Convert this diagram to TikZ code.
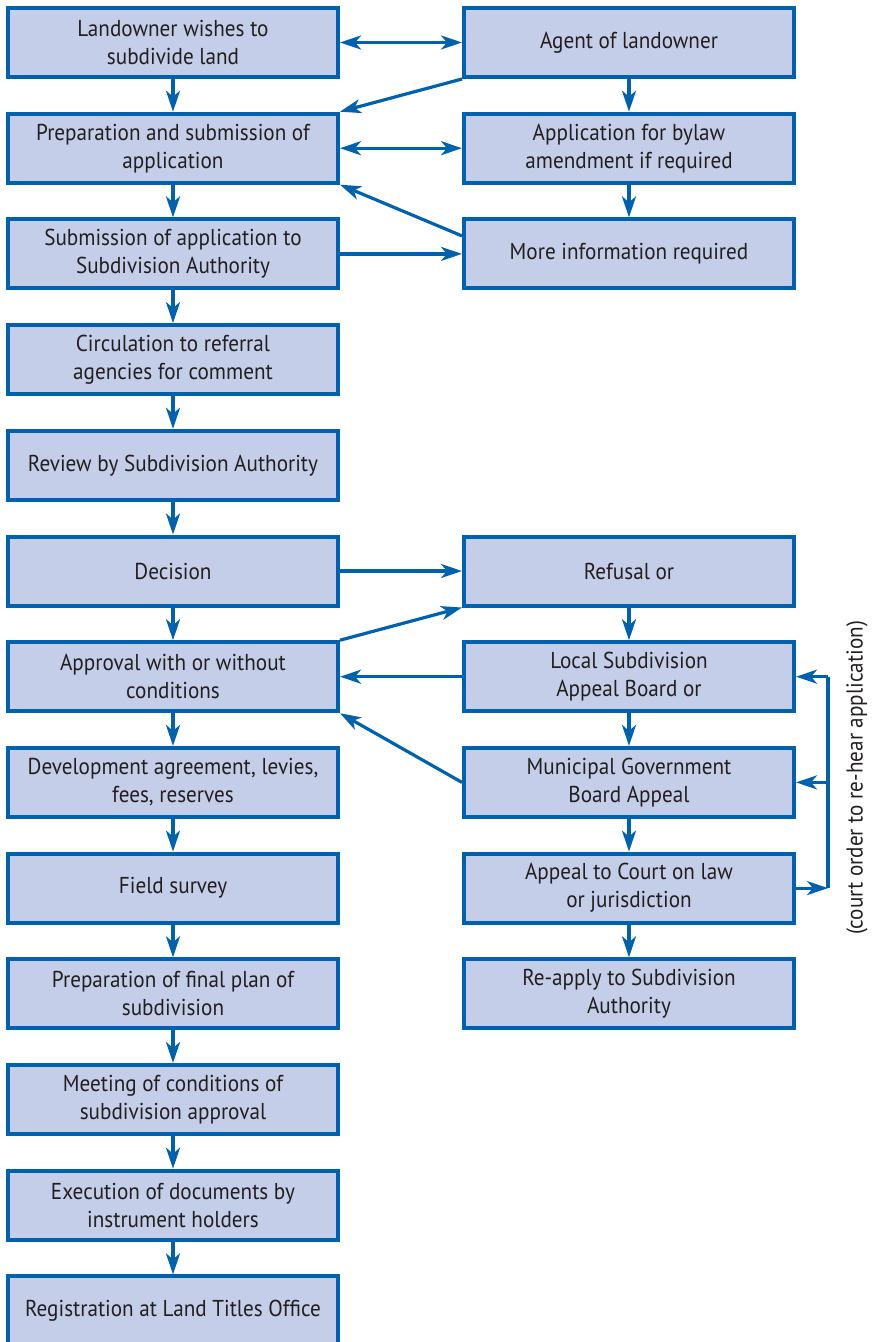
\documentclass[tikz,border=0pt]{standalone}
\usepackage{fontspec}
\setmainfont{PT Sans}[FakeStretch=0.92]
\usetikzlibrary{arrows.meta}

\begin{document}
\begin{tikzpicture}[x=1pt,y=-1pt,
  mybox/.style={draw=edge,line width=4pt,fill=boxfill,text=ink,align=center,
    minimum width=330pt,minimum height=69pt,inner sep=0pt,
    font=\fontsize{23}{28}\selectfont},
  link/.style={draw=edge,line width=3.2pt},
  >={Stealth[length=21pt,width=14pt,inset=6pt]}]
\definecolor{edge}{HTML}{0061AF}
\definecolor{boxfill}{HTML}{C4CEE8}
\definecolor{ink}{HTML}{231F20}
\useasboundingbox (0,0) rectangle (876,1342);
  % main column
  \foreach \i/\txt in {0/{Landowner wishes to\\subdivide land},
    1/{Preparation and submission of\\application},
    2/{Submission of application to\\Subdivision Authority},
    3/{Circulation to referral\\agencies for comment},
    4/{Review by Subdivision Authority},
    5/{Decision},
    6/{Approval with or without\\conditions},
    7/{Development agreement, levies,\\fees, reserves},
    8/{Field survey},
    9/{Preparation of final plan of\\subdivision},
    10/{Meeting of conditions of\\subdivision approval},
    11/{Execution of documents by\\instrument holders},
    12/{Registration at Land Titles Office}}
  {  \node [mybox] (l\i) at (173,{42.5+105.7*\i}) {\txt};}
  % side column
  \foreach \name/\row/\txt in {agent/0/{Agent of landowner},
    bylaw/1/{Application for bylaw\\amendment if required},
    moreinfo/2/{More information required},
    refusal/5/{Refusal or},
    localboard/6/{Local Subdivision\\Appeal Board or},
    mgb/7/{Municipal Government\\Board Appeal},
    court/8/{Appeal to Court on law\\or jurisdiction},
    reapply/9/{Re-apply to Subdivision\\Authority}}
  {  \node [mybox] (\name) at (629,{42.5+105.7*\row}) {\txt};}
  \foreach \i [count=\j] in {0,...,11}
  {  \draw [link,->] (l\i) -- (l\j);}
  \foreach \a/\b in {agent/bylaw,bylaw/moreinfo,refusal/localboard,localboard/mgb,mgb/court,court/reapply}
  {  \draw [link,->] (\a) -- (\b);}
  % cross links
  \draw [link,<->] (l0) -- (agent);
  \draw [link,->] (agent.south west) -- (l1.north east);
  \draw [link,<->] (l1) -- (bylaw);
  \draw [link,->] ([yshift=18pt]moreinfo.west) -- (l1.south east);
  \draw [link,->] (l2) -- (moreinfo);
  \draw [link,->] (l5) -- (refusal);
  \draw [link,->] (l6.north east) -- (refusal.south west);
  \draw [link,->] (localboard) -- (l6);
  \draw [link,->] (mgb.west) -- (l6.south east);
  % court order loop
  \coordinate (bracket) at (828,783);
  \draw [link,->] (court.east) -- (court.east -| bracket);
  \draw [link] (court.east -| bracket) -- (localboard.east -| bracket);
  \draw [link,->] (localboard.east -| bracket) -- (localboard.east);
  \draw [link,->] (mgb.east -| bracket) -- (mgb.east);
\node [rotate=90,text=ink,font=\fontsize{23}{28}\selectfont] (courtnote) at (857,778) {(court order to re-hear application)};
\end{tikzpicture}
\end{document}
